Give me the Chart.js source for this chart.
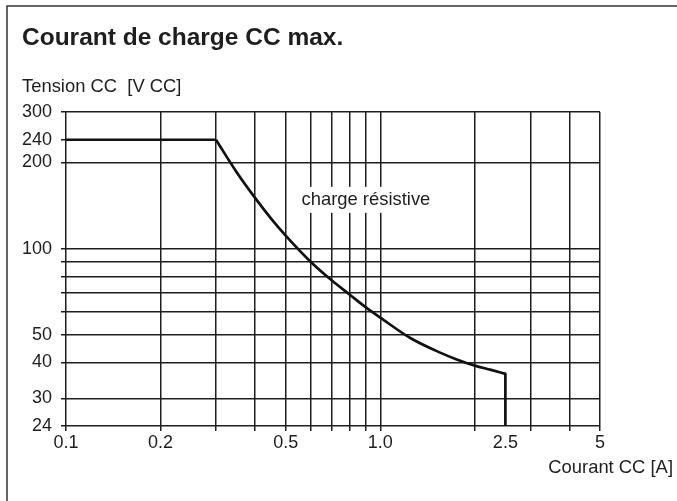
<!DOCTYPE html>
<html>
<head>
<meta charset="utf-8">
<script src="https://cdn.jsdelivr.net/npm/chart.js@4.4.1/dist/chart.umd.min.js"></script>
<style>
  html, body { margin: 0; padding: 0; background: #fff; }
  #wrap { width: 677px; height: 501px; position: relative; }
</style>
</head>
<body>
<div id="wrap"><canvas id="chart" width="677" height="501"></canvas></div>
<script>
// curve (current A -> voltage V)
const currentA = [0.1, 0.3, 0.35, 0.4, 0.45, 0.5, 0.6, 0.7, 0.8, 0.9, 1.0, 1.25, 1.55, 1.75, 2.0, 2.25, 2.5, 2.5];
const voltageV = [240, 240, 184, 150, 127, 111, 90, 77.5, 69, 62.3, 57.4, 48.6, 43.3, 41, 39, 37.7, 36.5, 24];
// the bent part runs from the corner (index 1) to the drop (index 16)
const bendFrom = 1, bendTo = 16;

// axis grid / tick values
const xGrid = [0.1, 0.2, 0.3, 0.4, 0.5, 0.6, 0.7, 0.8, 0.9, 1.0, 2, 2.5, 3, 4, 5];
const xLabels = { 0.1: '0.1', 0.2: '0.2', 0.5: '0.5', 1: '1.0', 2.5: '2.5', 5: '5' };
const xNoGrid = [2.5];
const yGrid = [24, 30, 40, 50, 60, 70, 80, 90, 100, 200, 240, 300];
const yLabels = { 24: '24', 30: '30', 40: '40', 50: '50', 100: '100', 200: '200', 240: '240', 300: '300' };
const yNoGrid = [240];

const titleText = 'Courant de charge CC max.';
const yTitle = 'Tension CC  [V CC]';
const xTitle = 'Courant CC [A]';
const curveLabel = 'charge résistive';
const curveLabelAt = { x: 0.9, y: 148 };

const FONT = '"Liberation Sans", Arial, Helvetica, sans-serif';
const INK = '#1e1e1e';

const frame = {
  id: 'frame',
  beforeDraw(chart) {
    const c = chart.ctx;
    c.save();
    c.fillStyle = '#fff';
    c.fillRect(0, 0, chart.width, chart.height);
    c.restore();
  },
  afterDraw(chart) {
    const c = chart.ctx;
    const xs = chart.scales.x, ys = chart.scales.y;
    c.save();
    // outer box
    c.strokeStyle = '#333';
    c.lineWidth = 1.5;
    c.strokeRect(7, 6, chart.width + 20, chart.height + 20);

    c.fillStyle = INK;
    c.textBaseline = 'alphabetic';
    c.font = 'bold 24.5px ' + FONT;
    c.textAlign = 'left';
    c.fillText(titleText, 22, 45);

    c.font = '18.4px ' + FONT;
    c.fillText(yTitle, 22, 92);

    c.textAlign = 'right';
    c.fillText(xTitle, 673, 473);

    // label on the curve, with a white box over the grid
    const px = xs.getPixelForValue(curveLabelAt.x);
    const py = ys.getPixelForValue(curveLabelAt.y);
    const w = c.measureText(curveLabel).width;
    c.fillStyle = '#fff';
    c.fillRect(px - w / 2 - 6, py - 13, w + 12, 26);
    c.fillStyle = INK;
    c.textAlign = 'center';
    c.textBaseline = 'middle';
    c.fillText(curveLabel, px, py);
    c.restore();
  }
};

function fixTicks(vals) {
  return scale => { scale.ticks = vals.map(v => ({ value: v })); };
}

function pts(a, b) {
  const out = [];
  for (let i = a; i <= b; i++) out.push({ x: currentA[i], y: voltageV[i] });
  return out;
}

const lineStyle = { borderColor: '#111', borderWidth: 2.7, pointRadius: 0, fill: false, borderJoinStyle: 'round' };

new Chart(document.getElementById('chart'), {
  type: 'line',
  data: {
    datasets: [
      Object.assign({ data: pts(0, bendFrom), tension: 0 }, lineStyle),
      Object.assign({ data: pts(bendFrom, bendTo), cubicInterpolationMode: 'monotone' }, lineStyle),
      Object.assign({ data: pts(bendTo, currentA.length - 1), tension: 0 }, lineStyle)
    ]
  },
  options: {
    responsive: false,
    animation: false,
    layout: { padding: { left: 0, right: 77, top: 112, bottom: 45 } },
    plugins: { legend: { display: false }, tooltip: { enabled: false } },
    scales: {
      x: {
        type: 'logarithmic',
        min: 0.1, max: 5,
        afterBuildTicks: fixTicks(xGrid),
        afterFit: s => { s.height = 30; },
        border: { display: false },
        grid: {
          color: ctx => xNoGrid.includes(ctx.tick.value) ? 'rgba(0,0,0,0)' : INK,
          tickColor: ctx => xNoGrid.includes(ctx.tick.value) ? 'rgba(0,0,0,0)' : INK,
          lineWidth: 1.5,
          tickLength: 5
        },
        ticks: {
          autoSkip: false, maxRotation: 0, padding: 1,
          color: INK,
          font: { family: FONT, size: 18 },
          callback: v => xLabels[v] !== undefined ? xLabels[v] : ''
        }
      },
      y: {
        type: 'logarithmic',
        min: 24, max: 300,
        afterBuildTicks: fixTicks(yGrid),
        afterFit: s => { s.width = 66; },
        border: { display: false },
        grid: {
          color: ctx => yNoGrid.includes(ctx.tick.value) ? 'rgba(0,0,0,0)' : INK,
          tickColor: INK,
          lineWidth: 1.5,
          tickLength: 5
        },
        ticks: {
          autoSkip: false, padding: 9,
          color: INK,
          font: { family: FONT, size: 18 },
          callback: v => yLabels[v] !== undefined ? yLabels[v] : ''
        }
      }
    }
  },
  plugins: [frame]
});
</script>
</body>
</html>
